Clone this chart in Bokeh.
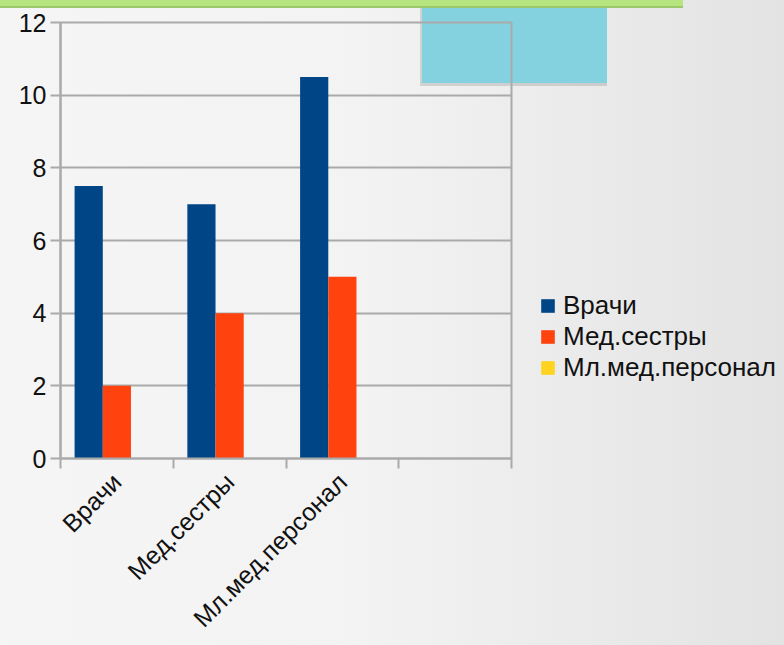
import math
from bokeh.plotting import figure
from bokeh.layouts import row
from bokeh.models import (Range1d, FixedTicker, Legend, LegendItem, ColumnDataSource)
from bokeh.embed import file_html
from bokeh.resources import INLINE

# ---- data ----
categories = ["Врачи", "Мед.сестры", "Мл.мед.персонал", ""]
series_names = ["Врачи", "Мед.сестры", "Мл.мед.персонал"]
vrachi = [7.5, 7.0, 10.5]
medsestry = [2.0, 4.0, 5.0]
ml_med_personal = [0.0, 0.0, 0.0]
y_ticks = [0, 2, 4, 6, 8, 10, 12]

series_values = [vrachi, medsestry, ml_med_personal]
colors = ["#004586", "#ff420e", "#ffd320"]

FONT = "Liberation Sans"
GRID = "#aaaaaa"
TXT = "#111111"

n_series = len(series_values)
bar_w = 0.25


def sources():
    out = []
    for j, vals in enumerate(series_values):
        xs = [i + 0.5 + (j - (n_series - 1) / 2) * bar_w for i in range(len(vals))]
        out.append(ColumnDataSource(dict(x=xs, top=vals)))
    return out


# ---- main chart ----
p = figure(width=513, height=645, output_backend="svg", toolbar_location=None,
           x_range=Range1d(0, len(categories)), y_range=Range1d(y_ticks[0], y_ticks[-1]),
           min_border_left=60, min_border_right=2, min_border_top=22, min_border_bottom=187)
p.background_fill_alpha = 0
p.border_fill_alpha = 0
p.outline_line_color = GRID
p.outline_line_width = 2

for src, col in zip(sources(), colors):
    p.vbar(x="x", top="top", bottom=0, width=bar_w, source=src,
           fill_color=col, line_color=None)

p.xgrid.grid_line_color = None
p.ygrid.grid_line_color = GRID
p.ygrid.grid_line_width = 2
p.ygrid.ticker = FixedTicker(ticks=y_ticks)

p.yaxis.ticker = FixedTicker(ticks=y_ticks)
p.yaxis.axis_line_color = GRID
p.yaxis.axis_line_width = 2
p.yaxis.major_tick_line_color = GRID
p.yaxis.major_tick_line_width = 2
p.yaxis.major_tick_in = 0
p.yaxis.major_tick_out = 10
p.yaxis.minor_tick_line_color = None
p.yaxis.major_label_text_font = FONT
p.yaxis.major_label_text_font_size = "25px"
p.yaxis.major_label_text_color = TXT
p.yaxis.major_label_standoff = 4

centers = [i + 0.5 for i in range(len(categories))]
p.xaxis.ticker = FixedTicker(ticks=centers, minor_ticks=list(range(len(categories) + 1)))
p.xaxis.major_label_overrides = {c: lab for c, lab in zip(centers, categories)}
p.xaxis.axis_line_color = GRID
p.xaxis.axis_line_width = 2
p.xaxis.major_tick_line_color = None
p.xaxis.major_tick_in = 0
p.xaxis.major_tick_out = 0
p.xaxis.minor_tick_line_color = GRID
p.xaxis.minor_tick_line_width = 2
p.xaxis.minor_tick_in = 0
p.xaxis.minor_tick_out = 10
p.xaxis.major_label_orientation = math.pi / 4
p.xaxis.major_label_text_font = FONT
p.xaxis.major_label_text_font_size = "25px"
p.xaxis.major_label_text_color = TXT
p.xaxis.major_label_standoff = 9

# ---- legend panel (hidden copies of the series, used only as legend keys) ----
p2 = figure(width=271, height=645, output_backend="svg", toolbar_location=None,
            x_range=Range1d(0, len(categories)), y_range=Range1d(y_ticks[0], y_ticks[-1]),
            x_axis_type=None, y_axis_type=None, min_border=0)
p2.background_fill_alpha = 0
p2.border_fill_alpha = 0
p2.outline_line_color = None
p2.grid.visible = False

items = []
for name, src, col in zip(series_names, sources(), colors):
    r = p2.vbar(x="x", top="top", bottom=0, width=bar_w, source=src,
                fill_color=col, line_color=None, visible=False)
    items.append(LegendItem(label=name, renderers=[r]))

legend = Legend(items=items, location=(26, 75))
legend.background_fill_alpha = 0
legend.border_line_color = None
legend.inactive_fill_alpha = 0
legend.padding = 0
legend.margin = 0
legend.spacing = 0
legend.glyph_width = 17
legend.glyph_height = 17
legend.label_standoff = 7
legend.label_text_font = FONT
legend.label_text_font_size = "26px"
legend.label_text_color = TXT
legend.label_height = 30
legend.click_policy = "none"
p2.add_layout(legend, "center")

layout = row(p, p2, spacing=0, styles={
    "background": (
        "linear-gradient(#9cc86c,#9cc86c) 0 6px/683px 2px no-repeat,"
        "linear-gradient(#b6e47f,#b6e47f) 0 0/683px 6px no-repeat,"
        "linear-gradient(#84d1e0,#84d1e0) 422px 0/185px 83px no-repeat,"
        "linear-gradient(rgba(0,0,0,0.13),rgba(0,0,0,0.13)) 420px 3px/187px 83px no-repeat,"
        "linear-gradient(to right, #f5f5f5 0%, #f3f3f3 45%, #e3e3e3 100%)"
    ),
})

open("out.html", "w").write(file_html(layout, INLINE))
